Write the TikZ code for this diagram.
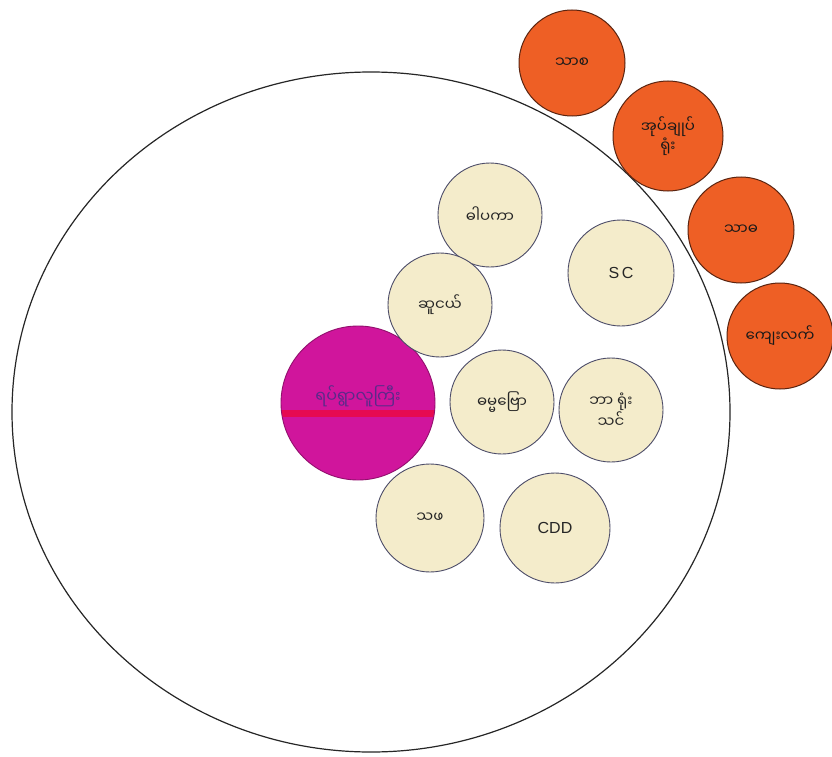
\documentclass[tikz,border=0pt]{standalone}
\usepackage{fontspec}
\setmainfont{Liberation Sans}
\newfontfamily\mya[Script=Myanmar]{Noto Sans Myanmar UI}
\definecolor{cream}{HTML}{F4ECCB}
\definecolor{creamline}{HTML}{4C4C68}
\definecolor{orng}{HTML}{EE5F25}
\definecolor{orngline}{HTML}{5A2410}
\definecolor{mag}{HTML}{D0159C}
\definecolor{magtext}{HTML}{5A2A8A}
\tikzset{
  ycirc/.style={circle, draw=creamline, line width=0.9pt, fill=cream, inner sep=0pt, minimum size=104pt, font=\mya\fontsize{15}{17}\selectfont, text=black!85, align=center},
  ocirc/.style={circle, draw=orngline, line width=1pt, fill=orng, inner sep=0pt, minimum size=106pt, font=\mya\fontsize{15}{17}\selectfont, text=black!90, align=center},
  mcirc/.style={circle, draw=mag!70!black, line width=0.9pt, fill=mag, inner sep=0pt, minimum size=154pt, align=center},
  bigring/.style={draw=black!85, line width=1.2pt}
}
\begin{document}
\begin{tikzpicture}[x=1pt,y=-1pt]
\useasboundingbox (0,0) rectangle (832,757);
\fill[white] (0,0) rectangle (832,757);
% community boundary
\draw[bigring] (371,412) ellipse [x radius=359, y radius=340];
% outside / boundary actors
\node[ocirc] (o1) at (572,63) {သာစ};
\node[ocirc, minimum size=110pt] (o2) at (668,136) {အုပ်ချုပ်\\ရုံး};
\node[ocirc] (o3) at (741,230) {သာဓ};
\node[ocirc] (o4) at (780,336) {ကျေးလက်};
% central actor
\node[mcirc] (m) at (358,403) {};
\begin{scope}
  \clip (358,403) circle (76.5);
  \fill[red!80!mag, opacity=0.6] (270,410) rectangle (440,417);
\end{scope}
\node[font=\mya\fontsize{16}{18}\selectfont, text=magtext] (mt) at (358,396) {ရပ်ရွာလူကြီး};
% inner actors
\node[ycirc] (y1) at (490,215) {ဓါပကာ};
\node[ycirc] (y2) at (440,305) {ဆူငယ်};
\node[ycirc, minimum size=106pt, font=\fontsize{16}{18}\selectfont\addfontfeatures{LetterSpace=15}] (y3) at (621,273) {SC};
\node[ycirc] (y4) at (502,402) {ဓမ္မဗြော};
\node[ycirc] (y5) at (611,410) {ဘာ ရုံး\\သင်};
\node[ycirc, minimum size=108pt] (y6) at (430,518) {သဖ};
\node[ycirc, minimum size=110pt, font=\fontsize{16}{18}\selectfont] (y7) at (555,528) {CDD};
\end{tikzpicture}
\end{document}
